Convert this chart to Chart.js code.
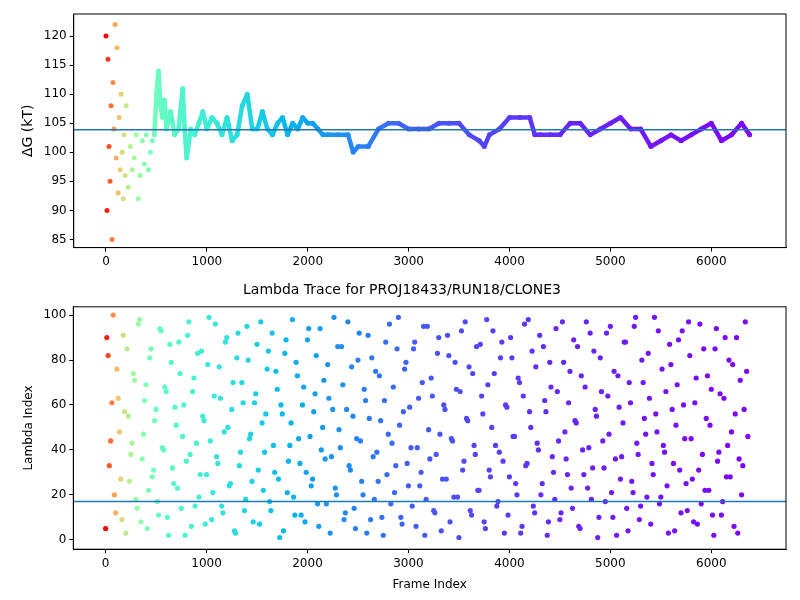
<!DOCTYPE html>
<html><head><meta charset="utf-8">
<script src="https://cdn.jsdelivr.net/npm/chart.js@4"></script>
<style>body{margin:0;background:#fff;font-family:"DejaVu Sans"}#a{position:absolute;left:0;top:0;width:800px;height:272px}#b{position:absolute;left:0;top:272px;width:800px;height:328px}</style>
</head><body>
<div id="a"><canvas id="c1"></canvas></div>
<div id="b"><canvas id="c2"></canvas></div>
<script>
const topFrames=[0,10,20,30,40,50,60,70,80,90,100,110,120,130,140,150,160,170,180,190,200,220,240,260,280,300,320,340,360,380,400,420,440,460,480,500,520,540,560,580,600,640,680,720,760,780,800,840,880,920,960,1000,1050,1100,1150,1200,1250,1300,1350,1400,1450,1500,1550,1600,1650,1700,1750,1800,1850,1900,1950,2000,2050,2100,2150,2200,2300,2400,2450,2500,2600,2700,2800,2900,3000,3100,3200,3300,3400,3500,3600,3700,3750,3800,3900,4000,4100,4200,4250,4300,4400,4500,4600,4700,4800,4900,5000,5100,5200,5300,5400,5500,5600,5700,5800,5900,6000,6100,6200,6300,6380];
const topDeltaG=[120,90,116,101,95,108,85,112,104,122,99,118,93,106,97,110,100,92,103,96,108,94,101,97,99,103,92,96,102,98,103,97,100,102,103,110,114,108,106,109,104,107,103,104,111,104,99,104,103,105,107,104,106,105,103,106,102,103,108,110,104,104,107,104,103,105,106,103,105,104,106,105,105,104,103,103,103,103,100,101,101,104,105,105,104,104,104,105,105,105,103,102,101,103,104,106,106,106,103,103,103,103,105,105,103,104,105,106,104,104,101,102,103,102,103,104,105,102,103,105,103];
const meanDeltaG=103.9;
const lambdaStep=25;
const lambdaIdx=[5,82,44,100,12,63,27,91,3,55,38,74,18,96,8,47,69,22,85,31,58,11,93,40,66,2,79,25,51,88,14,60,35,97,6,72,43,19,84,53,29,99,9,64,37,77,15,48,90,24,58,4,81,33,70,13,95,45,26,61,87,7,52,39,76,17,92,30,67,1,56,83,21,42,98,11,73,34,60,8,89,46,27,65,16,94,50,36,78,3,58,23,86,41,69,12,97,31,55,5,80,44,20,62,91,9,37,75,26,53,2,88,47,16,68,33,99,10,57,79,24,41,85,6,63,30,95,18,49,72,13,38,90,4,60,27,82,45,19,67,1,93,35,54,77,11,42,86,22,64,8,98,31,50,74,15,39,88,3,59,28,81,46,20,70,6,96,34,57,84,12,43,91,25,62,2,79,37,18,66,9,97,48,29,75,14,53,86,5,40,68,23,92,32,58,1,81,44,17,64,95,10,36,73,27,52,88,4,61,21,99,38,15,70,47,83,7,29,56,93,19,42,66,3,78,34,51,89,12,60,25,97,45,8,72,31,16,85,54,22,67,2,94,39,11,63,28,80,48,6,90,36,20,58,75];
const lambdaIdx2=[90,33,61,20,76,48,9,57,85,26,43,71,14,98,36,62,5,81,28,53,17,94,41,68,10,87,32,59,23,74,46,2,91,38,66,15,83,29,55,7,78,44,21,96,34,63,12,88,50,25,70,3,92,39,61,18,80,47,8,65,31,97,22,56,84,13,42,75,27,60,4,89,35,52,19,79,45,11,68,30,94,24,57,82,6,40,71,16,63,37,99,20,49,86,9,58,33,77,14,45,92,26,67,3,54,81,18,39,73,10,62,29,96,43,21,85,51,7,76,34,59,15,88,41,24,70,2,95,36,64,12,83,47,27,58,91,8,44,79,19,66,31,97,53,13,74,38,22,87,56,5,69,28,93,42,17,81,35,60,11,90,46,25,72,3,64,33,98,50,15,77,40,20,86,57,8,68,30,94,44,12,79,36,61,23,89,52,6,73,29,97,41,18,84,55,10,66,32,92,47,21,75,2,59,37,88,14,70,26,95,43,9,80,54,19,63,34,99,48,16,76,39,24,87,58,4,69,31,93,45,13,82,27,61,7,96,38,22,73,51,11,85,35,65,17,90,42,28,78,56,3,71,33,97,46];
function frameToX(f){const k=[[0,1],[30,0.9],[100,0.76],[200,0.63],[400,0.5],[600,0.43],[1000,0.37],[1500,0.3],[2000,0.22],[3000,0.12],[4500,0.05],[6400,0]];for(let i=1;i<k.length;i++){if(f<=k[i][0]){const t=(f-k[i-1][0])/(k[i][0]-k[i-1][0]);return k[i-1][1]+t*(k[i][1]-k[i-1][1]);}}return 0;}
function rainbow(f){const x=frameToX(f);const r=Math.min(1,Math.abs(2*x-0.5)),g=Math.sin(Math.PI*x),b=Math.cos(Math.PI*x/2);return `rgb(${Math.round(255*r)},${Math.round(255*g)},${Math.round(255*Math.max(0,b))})`;}
Chart.defaults.font.family='"DejaVu Sans"';Chart.defaults.font.size=12;Chart.defaults.color='#000';
Chart.register({id:'box',afterDraw(c){const a=c.chartArea,x=c.ctx;x.save();x.strokeStyle='#000';x.lineWidth=1;x.strokeRect(a.left,a.top,a.right-a.left,a.bottom-a.top);x.restore();}});
const mean=v=>({type:'line',data:[{x:-400,y:v},{x:6800,y:v}],borderColor:'#1f77b4',borderWidth:1.5,pointRadius:0,order:0});
const topPts=topFrames.map((f,i)=>({x:f,y:topDeltaG[i]}));
const xTicks=[0,1000,2000,3000,4000,5000,6000];
const g={display:true,drawOnChartArea:false,drawTicks:true,tickLength:4,color:'#000'};
function axes(ymin,ymax,yticks,ylabel,xlabel){return{x:{type:'linear',min:-320,max:6740,grid:g,border:{color:'#000'},afterBuildTicks:a=>{a.ticks=xTicks.map(v=>({value:v}));},ticks:{autoSkip:false,maxRotation:0,callback:v=>String(v)},title:{display:!!xlabel,text:xlabel}},
y:{min:ymin,max:ymax,grid:g,border:{color:'#000'},afterBuildTicks:a=>{a.ticks=yticks.map(v=>({value:v}));},ticks:{autoSkip:false,callback:v=>String(v)},title:{display:true,text:ylabel,font:{size:ylabel.startsWith('Δ')?14:12}}}};}
new Chart(document.getElementById('c1'),{type:'scatter',data:{datasets:[
{data:topPts,showLine:true,borderWidth:4.5,segment:{borderColor:c=>c.p0.parsed.x<480?'rgba(0,0,0,0)':rainbow(c.p0.parsed.x)},pointRadius:2.5,pointBorderWidth:0,pointBackgroundColor:c=>rainbow(c.raw?c.raw.x:0),order:1},
mean(meanDeltaG)]},
options:{animation:false,responsive:true,maintainAspectRatio:false,plugins:{legend:{display:false},tooltip:{enabled:false}},layout:{padding:{top:14,right:14,left:16}},
scales:axes(83.6,123.8,[85,90,95,100,105,110,115,120],'ΔG (kT)')}});
const lamPts=lambdaIdx.map((v,i)=>({x:i*lambdaStep,y:v})).concat(lambdaIdx2.map((v,i)=>({x:i*lambdaStep+12,y:v})));
new Chart(document.getElementById('c2'),{type:'scatter',data:{datasets:[
{data:lamPts,pointRadius:2.6,pointBorderWidth:0,pointBackgroundColor:c=>rainbow(c.raw?c.raw.x:0),order:1},mean(17)]},
options:{animation:false,responsive:true,maintainAspectRatio:false,plugins:{legend:{display:false},tooltip:{enabled:false},title:{display:true,text:'Lambda Trace for PROJ18433/RUN18/CLONE3',font:{size:14,weight:'normal'},padding:{top:10,bottom:8}}},layout:{padding:{right:14,left:18,bottom:4}},
scales:axes(-4.2,103.7,[0,20,40,60,80,100],'Lambda Index','Frame Index')}});
</script></body></html>
